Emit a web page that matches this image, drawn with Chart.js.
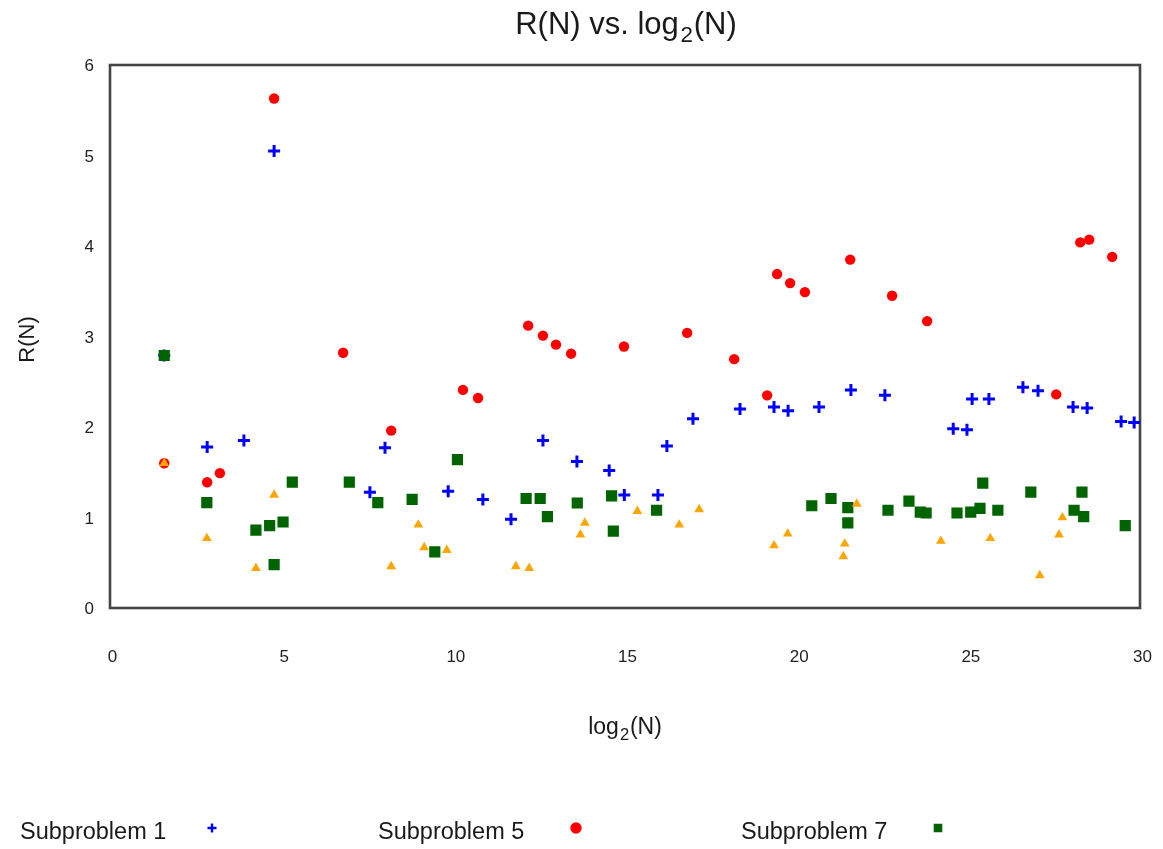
<!DOCTYPE html>
<html>
<head>
<meta charset="utf-8">
<script src="https://cdn.jsdelivr.net/npm/chart.js@4.4.1/dist/chart.umd.min.js"></script>
<style>
  html, body { margin: 0; padding: 0; background: #ffffff; }
  #wrap { width: 1163px; height: 849px; }
</style>
</head>
<body>
<div id="wrap"><canvas id="chart" width="1163" height="849"></canvas></div>
<script>
// log2(N) positions and R(N) values per subproblem
const sub1X = [1.58, 2.83, 3.90, 4.78, 7.57, 8.01, 9.85, 10.86, 11.68, 12.61, 13.60, 14.54, 14.98, 15.96, 16.22, 16.98, 18.35, 19.34, 19.75, 20.65, 21.58, 22.57, 24.56, 24.96, 25.11, 25.60, 26.59, 27.03, 28.05, 28.46, 29.45, 29.83];
const sub1Y = [2.79, 1.78, 1.85, 5.05, 1.28, 1.77, 1.29, 1.20, 0.98, 1.85, 1.62, 1.52, 1.25, 1.25, 1.79, 2.09, 2.20, 2.22, 2.18, 2.22, 2.41, 2.35, 1.98, 1.97, 2.31, 2.31, 2.44, 2.40, 2.22, 2.21, 2.06, 2.05];

const sub5X = [1.58, 2.83, 3.20, 4.78, 6.79, 8.19, 10.28, 10.72, 12.18, 12.61, 12.99, 13.43, 14.97, 16.81, 18.18, 19.14, 19.43, 19.81, 20.24, 21.56, 22.78, 23.80, 27.56, 28.26, 28.52, 29.19];
const sub5Y = [1.60, 1.39, 1.49, 5.63, 2.82, 1.96, 2.41, 2.32, 3.12, 3.01, 2.91, 2.81, 2.89, 3.04, 2.75, 2.35, 3.69, 3.59, 3.49, 3.85, 3.45, 3.17, 2.36, 4.04, 4.07, 3.88];

const sub7X = [1.58, 2.82, 4.25, 4.65, 4.78, 5.04, 5.31, 6.97, 7.80, 8.80, 9.46, 10.12, 12.12, 12.53, 12.74, 13.61, 14.61, 14.66, 15.92, 20.44, 21.00, 21.49, 21.49, 22.66, 23.27, 23.60, 23.77, 24.67, 25.07, 25.34, 25.42, 25.86, 26.82, 28.08, 28.31, 28.36, 29.57];
const sub7Y = [2.79, 1.165, 0.86, 0.91, 0.48, 0.95, 1.39, 1.39, 1.165, 1.20, 0.62, 1.64, 1.21, 1.21, 1.01, 1.16, 1.24, 0.85, 1.08, 1.13, 1.21, 1.11, 0.94, 1.08, 1.18, 1.06, 1.05, 1.05, 1.06, 1.10, 1.38, 1.08, 1.28, 1.08, 1.28, 1.01, 0.91];

const extraX = [1.58, 2.82, 4.25, 4.78, 8.19, 8.98, 9.15, 9.81, 11.82, 12.21, 13.70, 13.83, 15.36, 16.58, 17.16, 19.34, 19.74, 21.36, 21.40, 21.75, 24.20, 25.64, 27.08, 27.64, 27.74];
const extraY = [1.60, 0.77, 0.44, 1.25, 0.46, 0.92, 0.67, 0.64, 0.46, 0.44, 0.81, 0.94, 1.07, 0.92, 1.09, 0.69, 0.82, 0.57, 0.71, 1.15, 0.74, 0.77, 0.36, 0.81, 1.00];

const seriesLabels = ['Subproblem 1', 'Subproblem 5', 'Subproblem 7'];
const xTicks = [0, 5, 10, 15, 20, 25, 30];
const yTicks = [0, 1, 2, 3, 4, 5, 6];

const FONT = '"Liberation Sans", Arial, Helvetica, sans-serif';

function pairs(xs, ys) { return xs.map((x, i) => ({ x: x, y: ys[i] })); }

const styles = [
  { pointStyle: 'cross', color: '#0000ff', radius: 6, borderWidth: 3, order: 3 },
  { pointStyle: 'circle', color: '#ff0000', radius: 5.2, borderWidth: 0, order: 2 },
  { pointStyle: 'rect', color: '#006400', radius: 6.5, borderWidth: 2, order: 1 },
  { pointStyle: 'triangle', color: '#ffa500', radius: 5.6, borderWidth: 0, order: 0 }
];

const seriesData = [pairs(sub1X, sub1Y), pairs(sub5X, sub5Y), pairs(sub7X, sub7Y), pairs(extraX, extraY)];
const datasetLabels = seriesLabels.concat(['']);

const datasets = seriesData.map((d, i) => ({
  label: datasetLabels[i],
  data: d,
  pointStyle: styles[i].pointStyle,
  pointRadius: styles[i].radius,
  pointHoverRadius: styles[i].radius,
  backgroundColor: styles[i].color,
  borderColor: styles[i].color,
  borderWidth: styles[i].borderWidth,
  borderJoinStyle: 'round',
  order: styles[i].order,
  showLine: false
}));

// draws a string that may contain a subscript segment, centred on (cx, cy)
function drawRich(ctx, parts, size, cx, cy, angle) {
  ctx.save();
  ctx.translate(cx, cy);
  ctx.rotate(angle || 0);
  ctx.textBaseline = 'alphabetic';
  ctx.textAlign = 'left';
  let total = 0;
  const widths = parts.map(p => {
    ctx.font = (p.sub ? size * 0.72 : size) + 'px ' + FONT;
    const w = ctx.measureText(p.t).width + (p.sub ? size * 0.08 : 0);
    total += w;
    return w;
  });
  let x = -total / 2;
  const base = size * 0.36;
  parts.forEach((p, i) => {
    ctx.font = (p.sub ? size * 0.72 : size) + 'px ' + FONT;
    ctx.fillText(p.t, x + (p.sub ? size * 0.05 : 0), base + (p.sub ? size * 0.24 : 0));
    x += widths[i];
  });
  ctx.restore();
}

const decorations = {
  id: 'decorations',
  beforeDatasetsDraw(chart) {
    const { ctx, chartArea: a } = chart;
    ctx.save();
    ctx.strokeStyle = '#444444';
    ctx.lineWidth = 2.6;
    ctx.strokeRect(a.left, a.top, a.right - a.left, a.bottom - a.top);
    ctx.restore();
  },
  afterDraw(chart) {
    const { ctx, chartArea: a } = chart;
    const midX = (a.left + a.right) / 2;
    ctx.save();
    ctx.fillStyle = '#1a1a1a';
    drawRich(ctx, [{ t: 'R(N) vs. log' }, { t: '2', sub: true }, { t: '(N)' }], 31, midX + 1, 23);
    drawRich(ctx, [{ t: 'log' }, { t: '2', sub: true }, { t: '(N)' }], 23, midX, 726);
    drawRich(ctx, [{ t: 'R(N)' }], 22, 26, (a.top + a.bottom) / 2 + 3, -Math.PI / 2);

    // legend: label followed by its marker
    const starts = [20, 378, 741];
    const markerOffsets = [192, 198, 197];
    ctx.font = '23.5px ' + FONT;
    ctx.textBaseline = 'middle';
    ctx.textAlign = 'left';
    seriesLabels.forEach((label, i) => {
      ctx.fillStyle = '#1a1a1a';
      ctx.fillText(label, starts[i], 833);
      const s = styles[i];
      ctx.fillStyle = s.color;
      ctx.strokeStyle = s.color;
      ctx.lineWidth = s.pointStyle === 'cross' ? 2.4 : (s.pointStyle === 'rect' ? 1.5 : 0);
      Chart.helpers.drawPoint(ctx, {
        pointStyle: s.pointStyle,
        radius: s.pointStyle === 'rect' ? 5 : 4.5,
        borderWidth: ctx.lineWidth,
        rotation: 0
      }, starts[i] + markerOffsets[i], 828);
    });
    ctx.restore();
  }
};

new Chart(document.getElementById('chart'), {
  type: 'scatter',
  data: { datasets: datasets },
  plugins: [decorations],
  options: {
    responsive: false,
    animation: false,
    devicePixelRatio: 1,
    layout: { padding: { left: 0, right: 23, top: 65, bottom: 0 } },
    plugins: {
      legend: { display: false },
      title: { display: false },
      tooltip: { enabled: false }
    },
    scales: {
      x: {
        type: 'linear',
        min: xTicks[0],
        max: xTicks[xTicks.length - 1],
        afterBuildTicks(scale) { scale.ticks = xTicks.map(v => ({ value: v })); },
        afterFit(scale) {
          scale.height = 241;
          scale.paddingLeft = 0;
          scale.paddingRight = 0;
        },
        grid: { display: false, drawTicks: false },
        border: { display: false },
        ticks: { padding: 39, labelOffset: 2.5, color: '#222222', font: { family: FONT, size: 17 }, maxRotation: 0 }
      },
      y: {
        type: 'linear',
        min: yTicks[0],
        max: yTicks[yTicks.length - 1],
        afterBuildTicks(scale) { scale.ticks = yTicks.map(v => ({ value: v })); },
        afterFit(scale) {
          scale.width = 110;
          scale.paddingTop = 0;
          scale.paddingBottom = 0;
        },
        grid: { display: false, drawTicks: false },
        border: { display: false },
        ticks: { padding: 16, labelOffset: 1.5, color: '#222222', font: { family: FONT, size: 17 } }
      }
    }
  }
});
</script>
</body>
</html>
